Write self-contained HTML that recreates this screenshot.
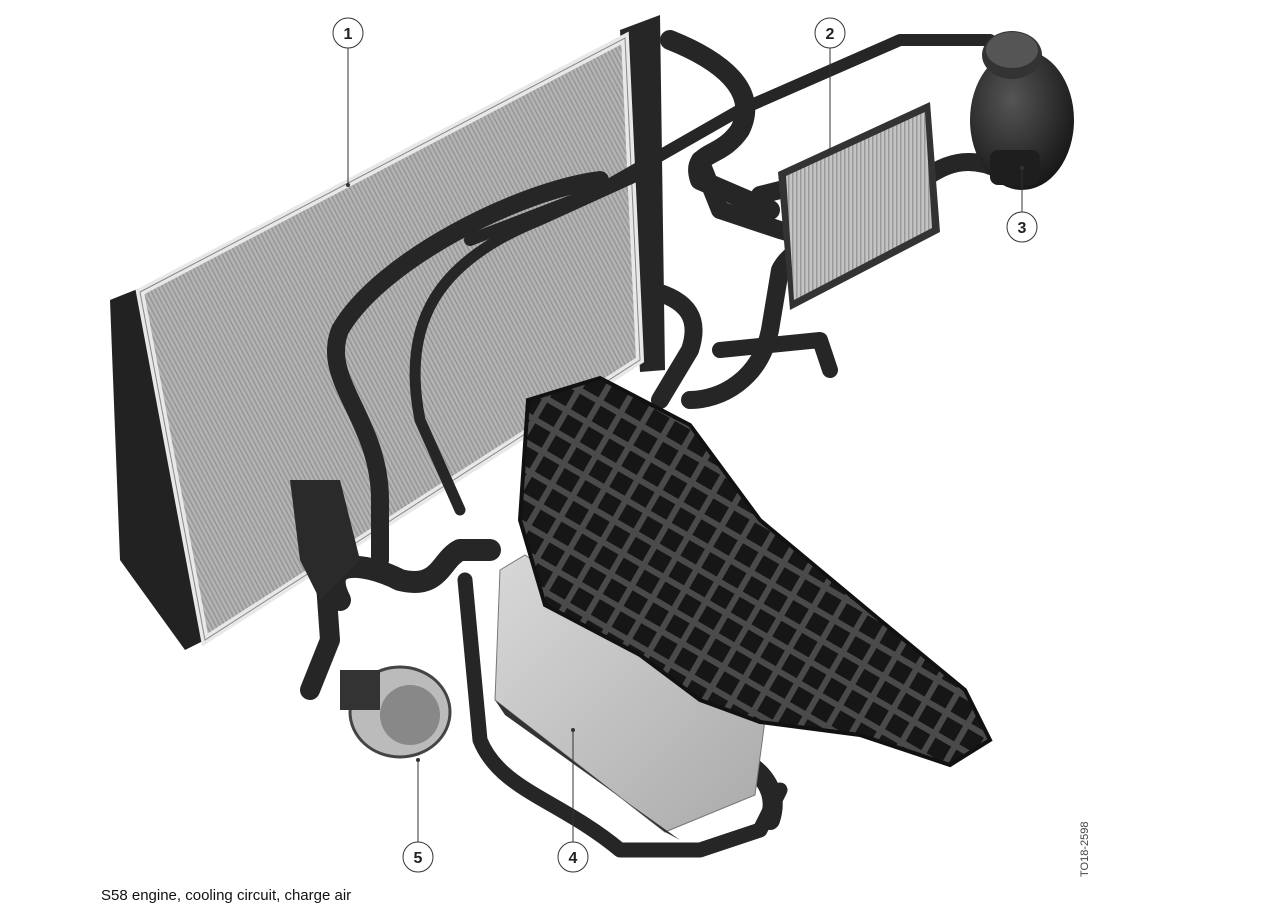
<!DOCTYPE html>
<html><head><meta charset="utf-8"><style>
html,body{margin:0;padding:0;background:#fff;width:1280px;height:917px;overflow:hidden}
svg{display:block}
</style></head><body>
<svg width="1280" height="917" viewBox="0 0 1280 917" xmlns="http://www.w3.org/2000/svg">
<defs>
<pattern id="fins" width="4" height="4" patternUnits="userSpaceOnUse" patternTransform="rotate(-28)">
<rect width="4" height="4" fill="#b3b3b3"/><rect width="1.5" height="4" fill="#969696"/>
</pattern>
<pattern id="fins2" width="4" height="4" patternUnits="userSpaceOnUse">
<rect width="4" height="4" fill="#c4c4c4"/><rect width="1.5" height="4" fill="#999"/>
</pattern>
<pattern id="grid" width="24" height="24" patternUnits="userSpaceOnUse" patternTransform="rotate(30)">
<rect width="24" height="24" fill="#4a4a4a"/><rect x="3" y="3" width="18" height="18" fill="#161616"/>
</pattern>
<linearGradient id="ic" x1="0" y1="0" x2="1" y2="1"><stop offset="0" stop-color="#d8d8d8"/><stop offset="1" stop-color="#aaa"/></linearGradient>
<radialGradient id="tank" cx="0.4" cy="0.35" r="0.7"><stop offset="0" stop-color="#555"/><stop offset="1" stop-color="#151515"/></radialGradient>
</defs>
<rect width="1280" height="917" fill="#fff"/>

<polygon points="110,300 140,288 205,640 185,650 120,560" fill="#222"/>
<polygon points="620,30 660,15 665,370 640,372" fill="#262626"/>
<polygon points="140,292 625,38 640,360 205,640" fill="url(#fins)"/>
<polygon points="140,292 625,38 640,360 205,640" fill="none" stroke="#e8e8e8" stroke-width="8"/>
<polygon points="140,292 625,38 640,360 205,640" fill="none" stroke="#888" stroke-width="1"/>

<g fill="none" stroke="#262626" stroke-linecap="round" stroke-linejoin="round">
<path d="M670,40 C720,60 760,90 740,130 C720,160 690,150 700,180 L770,210" stroke-width="20"/>
<path d="M470,240 L600,190 L740,110 L900,40 L990,40" stroke-width="12"/>
<path d="M600,180 C520,190 380,260 340,330 C320,380 380,420 380,500 L380,560" stroke-width="18"/>
<path d="M650,170 L540,220 C440,260 400,320 420,420 L460,510" stroke-width="11"/>
<path d="M700,160 L720,210 L780,230 C840,250 860,190 820,180 L760,195" stroke-width="18"/>
<path d="M1000,170 C960,150 930,170 900,200 C870,240 800,230 780,270 L770,330 C760,380 720,400 690,400" stroke-width="18"/>
<path d="M650,290 C690,300 700,320 690,350 L660,400" stroke-width="18"/>
<path d="M720,350 L820,340 L830,370" stroke-width="16"/>
<path d="M340,600 C320,560 360,560 400,580 C440,590 440,560 460,550 L490,550" stroke-width="22"/>
<path d="M320,500 L330,640 L310,690" stroke-width="20"/>
<path d="M465,580 L480,740 C500,790 560,800 620,850 L700,850 L760,830 L780,790" stroke-width="15"/>
<path d="M740,760 C760,770 780,790 770,820" stroke-width="20"/>
</g>

<polygon points="778,172 930,102 940,232 790,310" fill="#333"/>
<polygon points="786,176 925,112 932,228 794,300" fill="url(#fins2)"/>
<ellipse cx="1022" cy="120" rx="52" ry="70" fill="url(#tank)"/>
<ellipse cx="1012" cy="55" rx="30" ry="24" fill="#333"/>
<ellipse cx="1012" cy="50" rx="26" ry="18" fill="#555"/>
<rect x="990" y="150" width="50" height="35" rx="8" fill="#1e1e1e"/>

<polygon points="500,570 525,555 765,720 755,795 665,832 495,700" fill="url(#ic)" stroke="#777" stroke-width="1"/>
<polygon points="495,700 665,832 680,840 505,715" fill="#333"/>
<polygon points="528,400 600,378 690,425 760,520 880,620 965,690 990,740 950,765 860,735 760,722 700,700 640,655 545,605 520,520" fill="url(#grid)" stroke="#111" stroke-width="4"/>

<ellipse cx="400" cy="712" rx="50" ry="45" fill="#bbb" stroke="#444" stroke-width="3"/>
<ellipse cx="410" cy="715" rx="30" ry="30" fill="#888"/>
<rect x="340" y="670" width="40" height="40" fill="#333"/>
<path d="M290,480 L340,480 L360,560 L320,600 L300,560 Z" fill="#2a2a2a"/>

<g stroke="#333" stroke-width="1" fill="#fff">
<line x1="348" y1="48" x2="348" y2="185"/>
<line x1="830" y1="48" x2="830" y2="150"/>
<line x1="1022" y1="212" x2="1022" y2="168"/>
<line x1="573" y1="842" x2="573" y2="730"/>
<line x1="418" y1="842" x2="418" y2="760"/>
<circle cx="348" cy="33" r="15"/><circle cx="830" cy="33" r="15"/>
<circle cx="1022" cy="227" r="15"/><circle cx="573" cy="857" r="15"/>
<circle cx="418" cy="857" r="15"/>
</g>
<g fill="#333" stroke="none"><circle cx="348" cy="185" r="2"/><circle cx="830" cy="150" r="2"/><circle cx="1022" cy="168" r="2"/><circle cx="573" cy="730" r="2"/><circle cx="418" cy="760" r="2"/></g>
<g font-family="Liberation Sans, sans-serif" font-size="16" font-weight="bold" fill="#222" text-anchor="middle">
<text x="348" y="39">1</text><text x="830" y="39">2</text><text x="1022" y="233">3</text><text x="573" y="863">4</text><text x="418" y="863">5</text>
</g>
<text x="1088" y="877" transform="rotate(-90 1088 877)" font-family="Liberation Sans, sans-serif" font-size="11" fill="#444">TO18-2598</text>
<text x="101" y="900" font-family="Liberation Sans, sans-serif" font-size="15" fill="#111">S58 engine, cooling circuit, charge air</text>
</svg>
</body></html>
